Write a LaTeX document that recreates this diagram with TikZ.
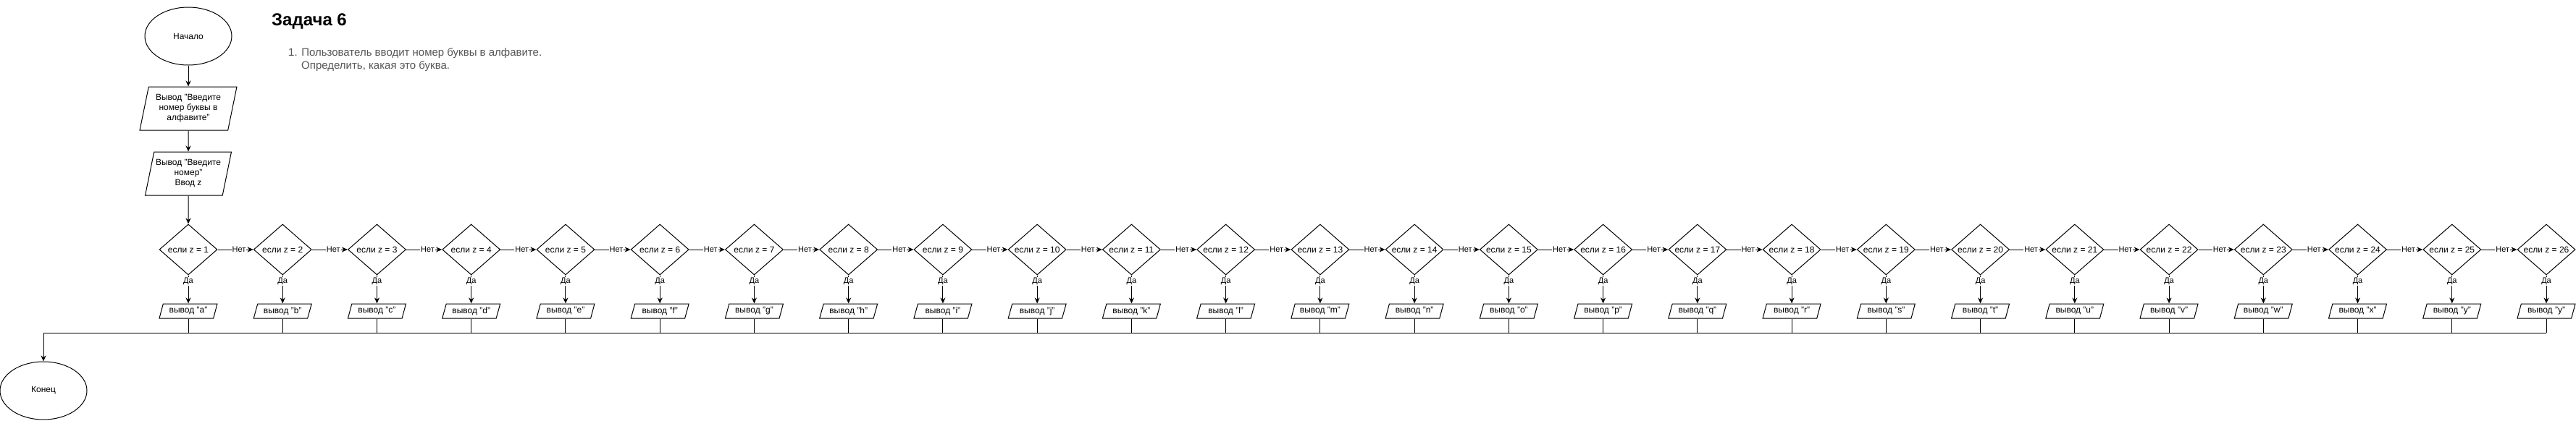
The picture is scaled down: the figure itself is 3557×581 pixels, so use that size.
\documentclass[tikz,border=0pt]{standalone}
\usepackage{fontspec}
\setmainfont{Liberation Sans}
\usetikzlibrary{shapes.geometric,arrows.meta}
\definecolor{taskgray}{HTML}{555555}

\begin{document}
\begin{tikzpicture}
[x=1pt,y=-1pt,
  termdecorate/.style={shape=ellipse,draw,line width=1pt,minimum width=120pt,minimum height=80pt,inner sep=0pt,font=\fontsize{12}{14}\selectfont},
  iodecorate/.style={shape=trapezium,draw,line width=1pt,trapezium left angle=72.4,trapezium right angle=107.6,trapezium stretches body,inner sep=0pt,minimum height=60pt,align=center,font=\fontsize{12}{14}\selectfont},
  outdecorate/.style={iodecorate,trapezium left angle=63.4,trapezium right angle=116.6,minimum width=80pt,minimum height=20pt},
  ifdecorate/.style={shape=diamond,draw,line width=1pt,aspect=1.14,minimum width=80pt,minimum height=70pt,inner sep=0pt,font=\fontsize{12}{14}\selectfont},
  linedecorate/.style={-{Stealth[length=8pt,width=7pt,inset=2.5pt]},line width=1pt},
  labeldecorate/.style={fill=white,inner sep=1pt,font=\fontsize{11}{13}\selectfont}]
\useasboundingbox (0,0) rectangle (3557,581);
%% text
\node (title) at (375,30) [anchor=west,inner sep=0pt,font=\bfseries\fontsize{24}{28}\selectfont] {Задача 6};
\node (task1) at (398,74) [anchor=west,inner sep=0pt,text=taskgray,font=\fontsize{15}{18}\selectfont] {1. Пользователь вводит номер буквы в алфавите.};
\node (task2) at (416,92) [anchor=west,inner sep=0pt,text=taskgray,font=\fontsize{15}{18}\selectfont] {Определить, какая это буква.};
%% nodes or vertices
\node (start) at (260,50) [termdecorate] {Начало};
\node (in1) at (260,150) [iodecorate,minimum width=134pt] {Вывод "Введите\\номер буквы в\\алфавите"};
\node (in2) at (260,240) [iodecorate,minimum width=119pt] {Вывод "Введите\\номер"\\Ввод z};
\foreach \i/\letter in {1/a, 2/b, 3/c, 4/d, 5/e, 6/f, 7/g, 8/h, 9/i, 10/j, 11/k, 12/l, 13/m,
  14/n, 15/o, 16/p, 17/q, 18/r, 19/s, 20/t, 21/u, 22/v, 23/w, 24/x, 25/y, 26/y} {
  \node (if\i) at ({260+(\i-1)*130.24},345) [ifdecorate] {если z = \i};
  \node (out\i) at ({260+(\i-1)*130.24},430) [outdecorate] {вывод "\letter"};
}
\node (stop) at (60,540) [termdecorate] {Конец};
\coordinate (busleft) at (60,460);
%% edges or lines
\path (start) edge[linedecorate] (in1)
  (in1) edge[linedecorate] (in2)
  (in2) edge[linedecorate] (if1);
\foreach \i [count=\j from 2] in {1,...,25} {
  \path (if\i) edge[linedecorate] node[labeldecorate,pos=0.6] {Нет} (if\j);
}
\foreach \i in {1,...,26} {
  \path (if\i) edge[linedecorate] node[labeldecorate,pos=0.22] {Да} (out\i);
  \draw[line width=1pt] (out\i.south) -- (out\i.south |- busleft);
}
\draw[linedecorate] (out26.south |- busleft) -- (busleft) -- (stop);
\end{tikzpicture}
\end{document}
